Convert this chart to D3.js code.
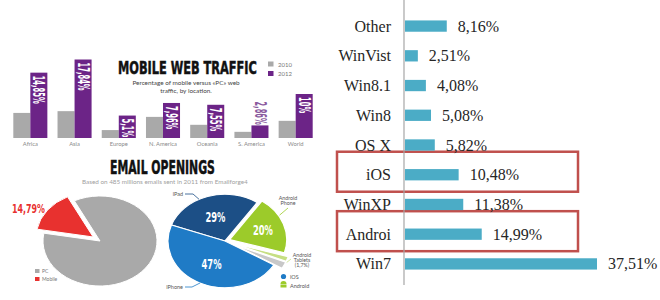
<!doctype html>
<html lang="en">
<head>
<meta charset="utf-8">
<title>Mobile traffic and OS share</title>
<script src="https://d3js.org/d3.v7.min.js"></script>
<style>
    body { margin: 0; background: #fff; }
    svg { display: block; }
</style>
</head>
<body>
<div id="chart"></div>
<script>

// ---- data: mobile web traffic by region (infographic, left top)
var regions = ["Africa", "Asia", "Europe", "N. America", "Oceania", "S. America", "World"];
var traffic2010 = [5.7, 6.1, 1.8, 4.8, 3.0, 1.4, 3.9];
var traffic2012 = [14.85, 17.84, 5.1, 7.96, 7.55, 2.86, 10];
var traffic2012Labels = ["14,85%", "17,84%", "5,1%", "7,96%", "7,55%", "2,86%", "10%"];
var years = ["2010", "2012"];

// ---- data: email openings (infographic, left bottom)
var emailNames = ["Mobile", "PC"];
var emailValues = [14.79, 85.21];
var deviceNames = ["iPad", "Android Phone", "Android Tablets", "Other", "iPhone"];
var deviceValues = [29, 20, 1.7, 2.3, 47];
var deviceLabels = ["29%", "20%", "", "", "47%"];

// ---- data: OS share (bar chart, right)
var osNames = ["Other", "WinVist", "Win8.1", "Win8", "OS X", "iOS", "WinXP", "Androi", "Win7"];
var osValues = [8.16, 2.51, 4.08, 5.08, 5.82, 10.48, 11.38, 14.99, 37.51];
var osLabels = ["8,16%", "2,51%", "4,08%", "5,08%", "5,82%", "10,48%", "11,38%", "14,99%", "37,51%"];
var osHighlighted = ["iOS", "Androi"];

var width = 660;
var height = 300;

var svg = d3.select("#chart").append("svg")
    .attr("width", width)
    .attr("height", height);

var condensed = "'DejaVu Sans Condensed', 'DejaVu Sans', sans-serif";
var smallFont = "Lato, 'Open Sans', sans-serif";
var purple = "#6c2487";
var gray = "#a9a9a9";

// squeeze a text horizontally so it is exactly w pixels wide
function fitWidth(sel, w) {
    var natural = sel.node().getComputedTextLength();
    var x = +sel.attr("x"), y = +sel.attr("y");
    var k = w / natural;
    sel.attr("transform", "translate(" + x + "," + y + ") scale(" + k + ",1) translate(" + (-x) + "," + (-y) + ")");
    return sel;
}

// =========================================================
// Mobile web traffic grouped bars
// =========================================================
var x0 = d3.scaleBand().domain(regions).range([8, 318]).paddingInner(0.23).paddingOuter(0.12);
var x1 = d3.scaleBand().domain(years).range([0, x0.bandwidth()]);
var yT = d3.scaleLinear().domain([0, 20]).range([138, 50]);

var traffic = svg.append("g");

regions.forEach(function (r, i) {
    var g = traffic.append("g").attr("transform", "translate(" + x0(r) + ",0)");

    g.append("rect")
        .attr("x", x1("2010"))
        .attr("y", yT(traffic2010[i]))
        .attr("width", x1.bandwidth())
        .attr("height", yT(0) - yT(traffic2010[i]))
        .attr("fill", gray);

    g.append("rect")
        .attr("x", x1("2012"))
        .attr("y", yT(traffic2012[i]))
        .attr("width", x1.bandwidth())
        .attr("height", yT(0) - yT(traffic2012[i]))
        .attr("fill", purple);

    // rotated value label, inside bar (or above it when bar is too short)
    var cx = x1("2012") + x1.bandwidth() / 2;
    var tooShort = (yT(0) - yT(traffic2012[i])) < 18;
    var top = tooShort ? yT(traffic2012[i]) - 24 : yT(traffic2012[i]) + 3;
    g.append("text")
        .attr("transform", "translate(" + cx + "," + top + ") rotate(90) scale(0.5,1)")
        .attr("dy", "0.36em")
        .attr("font-family", condensed)
        .attr("font-weight", "bold")
        .attr("font-size", 15)
        .attr("fill", tooShort ? "#8a5a9e" : "#fff")
        .text(traffic2012Labels[i]);

    g.append("text")
        .attr("x", x0.bandwidth() / 2)
        .attr("y", 146)
        .attr("text-anchor", "middle")
        .attr("font-family", smallFont)
        .attr("font-size", 5.8)
        .attr("fill", "#8a8a8a")
        .text(r);
});

// title + subtitle + legend
fitWidth(traffic.append("text")
    .attr("x", 118).attr("y", 74.5)
    .attr("font-family", condensed).attr("font-weight", "bold")
    .attr("font-size", 18).attr("fill", "#111")
    .attr("stroke", "#111").attr("stroke-width", 0.5)
    .text("MOBILE WEB TRAFFIC"), 139);

traffic.append("text")
    .attr("x", 186).attr("y", 85)
    .attr("text-anchor", "middle")
    .attr("font-family", smallFont).attr("font-size", 6.4).attr("fill", "#444")
    .text("Percentage of mobile versus «PC» web");

traffic.append("text")
    .attr("x", 186).attr("y", 92.5)
    .attr("text-anchor", "middle")
    .attr("font-family", smallFont).attr("font-size", 6.4).attr("fill", "#444")
    .text("traffic, by location.");

years.forEach(function (yr, i) {
    traffic.append("rect")
        .attr("x", 268).attr("y", 61.5 + i * 9.5)
        .attr("width", 5.5).attr("height", 5)
        .attr("fill", i === 0 ? gray : purple);
    traffic.append("text")
        .attr("x", 278).attr("y", 66.5 + i * 9.5)
        .attr("font-family", smallFont).attr("font-size", 6)
        .attr("fill", "#777")
        .text(yr);
});

// =========================================================
// Email openings pies
// =========================================================
var email = svg.append("g");

fitWidth(email.append("text")
    .attr("x", 110).attr("y", 174.5)
    .attr("font-family", condensed).attr("font-weight", "bold")
    .attr("font-size", 19).attr("fill", "#111")
    .attr("stroke", "#111").attr("stroke-width", 0.5)
    .text("EMAIL OPENINGS"), 105);

fitWidth(email.append("text")
    .attr("x", 82).attr("y", 184.5)
    .attr("font-family", smallFont).attr("font-size", 5.3).attr("fill", "#a0a0a0")
    .text("Based on 485 millions emails sent in 2011 from Emailforge4"), 166);

var deg = Math.PI / 180;

// explode offset of a slice along its bisector
function offset(a, dist) {
    var mid = (a.startAngle + a.endAngle) / 2;
    return [Math.sin(mid) * dist, -Math.cos(mid) * dist];
}

// -- PC vs mobile
var emailColors = d3.scaleOrdinal().domain(emailNames).range(["#e8312f", "#a9a9a9"]);
var emailPie = d3.pie().sort(null)
    .startAngle(-80 * deg).endAngle(280 * deg)
    .value(function (d, i) { return emailValues[i]; });
var emailArc = d3.arc().innerRadius(0).outerRadius(57);

var pie1 = email.append("g").attr("transform", "translate(100,241) scale(1,0.79)");
pie1.selectAll("path")
    .data(emailPie(emailNames))
    .enter().append("path")
    .attr("d", emailArc)
    .attr("transform", function (d) {
        var o = offset(d, d.data === "Mobile" ? 8.5 : 0);
        return "translate(" + o[0] + "," + o[1] + ")";
    })
    .attr("fill", function (d) { return emailColors(d.data); })
    .attr("stroke", "#fff")
    .attr("stroke-width", 1)
    .attr("vector-effect", "non-scaling-stroke");

fitWidth(email.append("text")
    .attr("x", 12).attr("y", 213)
    .attr("font-family", condensed).attr("font-weight", "bold")
    .attr("font-size", 13).attr("fill", "#e8312f")
    .text("14,79%"), 33);

["PC", "Mobile"].forEach(function (n, i) {
    email.append("rect")
        .attr("x", 35).attr("y", 269 + i * 8)
        .attr("width", 4.5).attr("height", 4)
        .attr("fill", emailColors(n));
    email.append("text")
        .attr("x", 42).attr("y", 273 + i * 8)
        .attr("font-family", smallFont).attr("font-size", 5)
        .attr("fill", "#777")
        .text(n);
});

// -- devices
var deviceColors = d3.scaleOrdinal().domain(deviceNames)
    .range(["#1c4f86", "#9ccb2a", "#c6df83", "#c8c8c8", "#1f7bc6"]);
var devicePie = d3.pie().sort(null)
    .startAngle(-70 * deg).endAngle(290 * deg)
    .value(function (d, i) { return deviceValues[i]; });
var rDev = 57;
var sy = 0.82;
var deviceArc = d3.arc().innerRadius(0).outerRadius(rDev);
var explode = { "Android Phone": 5, "Android Tablets": 9, "Other": 9 };
var cxDev = 225, cyDev = 241;

var pie2 = email.append("g").attr("transform", "translate(" + cxDev + "," + cyDev + ") scale(1," + sy + ")");
var slices = devicePie(deviceNames);
pie2.selectAll("path")
    .data(slices)
    .enter().append("path")
    .attr("d", deviceArc)
    .attr("transform", function (d) {
        var o = offset(d, explode[d.data] || 0);
        return "translate(" + o[0] + "," + o[1] + ")";
    })
    .attr("fill", function (d) { return deviceColors(d.data); })
    .attr("stroke", "#fff")
    .attr("stroke-width", 1.2)
    .attr("vector-effect", "non-scaling-stroke");

// percentage labels inside slices
var labelArc = d3.arc().innerRadius(rDev * 0.55).outerRadius(rDev * 0.55);
slices.forEach(function (d, i) {
    if (!deviceLabels[i]) return;
    var c = labelArc.centroid(d);
    var o = offset(d, (explode[d.data] || 0) + (d.data === "Android Phone" ? 4 : 0));
    var t = email.append("text")
        .attr("x", cxDev + c[0] + o[0])
        .attr("y", cyDev + (c[1] + o[1]) * sy)
        .attr("dy", "0.36em")
        .attr("text-anchor", "middle")
        .attr("font-family", condensed).attr("font-weight", "bold")
        .attr("font-size", 14).attr("fill", "#fff")
        .text(deviceLabels[i]);
    fitWidth(t, 20);
});

// point on pie edge for a given angle
function edge(angle, extra) {
    var a = angle * deg;
    return [cxDev + Math.sin(a) * (rDev + extra), cyDev - Math.cos(a) * (rDev + extra) * sy];
}

var line = d3.line();
var calloutColor = "#1f7bc6";
var e;

e = edge(-27, 0);
email.append("path").attr("d", line([[185, 194], [193, 194], e]))
    .attr("fill", "none").attr("stroke", "#1c4f86").attr("stroke-width", 0.8);
email.append("text").attr("x", 183).attr("y", 196).attr("text-anchor", "end")
    .attr("font-family", smallFont).attr("font-size", 5.5).attr("fill", "#555").text("iPad");

e = edge(206, 0);
email.append("path").attr("d", line([[185, 287], [192, 287], e]))
    .attr("fill", "none").attr("stroke", calloutColor).attr("stroke-width", 0.8);
email.append("text").attr("x", 183).attr("y", 289).attr("text-anchor", "end")
    .attr("font-family", smallFont).attr("font-size", 5.5).attr("fill", "#555").text("iPhone");

e = edge(60, 6);
email.append("path").attr("d", line([e, [288, 208]]))
    .attr("fill", "none").attr("stroke", "#9ccb2a").attr("stroke-width", 0.8);
email.append("text").attr("x", 288).attr("y", 199.5).attr("text-anchor", "middle")
    .attr("font-family", smallFont).attr("font-size", 5.3).attr("fill", "#555").text("Android");
email.append("text").attr("x", 288).attr("y", 205).attr("text-anchor", "middle")
    .attr("font-family", smallFont).attr("font-size", 5.3).attr("fill", "#555").text("Phone");

e = edge(113, 10);
email.append("path").attr("d", line([e, [291, 259]]))
    .attr("fill", "none").attr("stroke", "#c6df83").attr("stroke-width", 0.8);
["Android", "Tablets", "(1,7%)"].forEach(function (t, i) {
    email.append("text").attr("x", 302).attr("y", 256.5 + i * 5).attr("text-anchor", "middle")
        .attr("font-family", smallFont).attr("font-size", 5.3).attr("fill", "#555").text(t);
});

// os legend with small icons
email.append("circle").attr("cx", 283.5).attr("cy", 276.5).attr("r", 2.6).attr("fill", "#1f7bc6");
email.append("text").attr("x", 290).attr("y", 278.5)
    .attr("font-family", smallFont).attr("font-size", 5.5).attr("fill", "#555").text("iOS");
email.append("path")
    .attr("d", d3.arc().innerRadius(0).outerRadius(3).startAngle(-90 * deg).endAngle(90 * deg)())
    .attr("transform", "translate(283.5,284)")
    .attr("fill", "#9ccb2a");
email.append("rect").attr("x", 280.5).attr("y", 284.5).attr("width", 6).attr("height", 3).attr("fill", "#9ccb2a");
email.append("text").attr("x", 290).attr("y", 287.5)
    .attr("font-family", smallFont).attr("font-size", 5.5).attr("fill", "#555").text("Android");

// =========================================================
// OS share horizontal bars
// =========================================================
var serif = "'Liberation Serif', 'DejaVu Serif', serif";

var yOs = d3.scaleBand().domain(osNames).range([2, 288]).padding(0.62);
var xOs = d3.scaleLinear().domain([0, 37.51]).range([405, 597]);
var osBarColor = "#4bacc6";

var os = svg.append("g");

// highlight boxes
os.selectAll("rect.hl")
    .data(osHighlighted)
    .enter().append("rect")
    .attr("class", "hl")
    .attr("x", 337)
    .attr("y", function (d) { return yOs(d) + yOs.bandwidth() / 2 - 23; })
    .attr("width", 241)
    .attr("height", 40)
    .attr("fill", "none")
    .attr("stroke", "#c0504d")
    .attr("stroke-width", 2.5);

os.selectAll("rect.bar")
    .data(osNames)
    .enter().append("rect")
    .attr("class", "bar")
    .attr("x", xOs(0))
    .attr("y", function (d) { return yOs(d); })
    .attr("width", function (d, i) { return xOs(osValues[i]) - xOs(0); })
    .attr("height", yOs.bandwidth())
    .attr("fill", osBarColor);

os.selectAll("text.val")
    .data(osNames)
    .enter().append("text")
    .attr("class", "val")
    .attr("x", function (d, i) { return xOs(osValues[i]) + 11; })
    .attr("y", function (d) { return yOs(d) + yOs.bandwidth() / 2 + 5.5; })
    .attr("font-family", serif)
    .attr("font-size", 16)
    .attr("fill", "#262626")
    .text(function (d, i) { return osLabels[i]; });

os.selectAll("text.cat")
    .data(osNames)
    .enter().append("text")
    .attr("class", "cat")
    .attr("x", 391)
    .attr("y", function (d) { return yOs(d) + yOs.bandwidth() / 2 + 5.5; })
    .attr("text-anchor", "end")
    .attr("font-family", serif)
    .attr("font-size", 16)
    .attr("fill", "#262626")
    .text(function (d) { return d; });

// vertical axis line
os.append("line")
    .attr("x1", 404).attr("x2", 404)
    .attr("y1", 0).attr("y2", 285)
    .attr("stroke", "#a6a6a6")
    .attr("stroke-width", 1.2);

</script>
</body>
</html>
